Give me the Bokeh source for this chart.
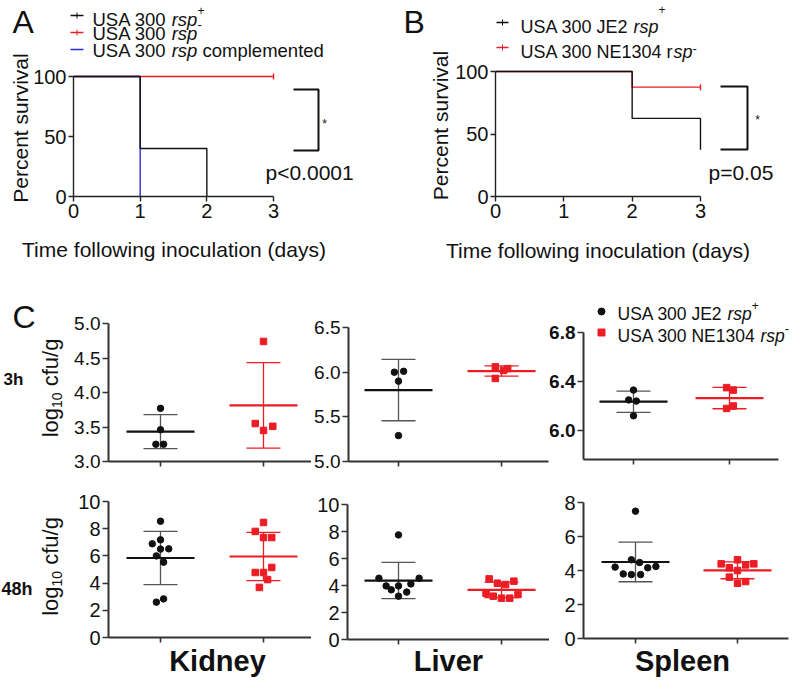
import numpy as np
from bokeh.plotting import figure
from bokeh.layouts import column, row
from bokeh.models import Label, FixedTicker, NumeralTickFormatter
from bokeh.embed import file_html
from bokeh.resources import INLINE

FONT = "Liberation Sans"
RED = "#ec1c24"
BLUE = "#2a2ad2"
BLACK = "#111111"

# ---------------- Panel A : percent survival vs days ----------------
a_x_ticks = [0, 1, 2, 3]
a_y_ticks = [0, 50, 100]
a_pos_t = [0, 1, 2]
a_pos_s = [100, 40, 0]
a_neg_t = [0, 3]
a_neg_s = [100, 100]
a_cmp_t = [0, 1]
a_cmp_s = [100, 0]
a_neg_censor_t = [3]
a_neg_censor_s = [100]
a_pvalue = "p<0.0001"

# ---------------- Panel B ----------------
b_x_ticks = [0, 1, 2, 3]
b_y_ticks = [0, 50, 100]
b_je2_t = [0, 2, 3]
b_je2_s = [100, 62.5, 37.5]
b_ne_t = [0, 2, 3]
b_ne_s = [100, 87.5, 87.5]
b_ne_censor_t = [3]
b_ne_censor_s = [87.5]
b_pvalue = "p=0.05"

# ---------------- Panel C : log10 cfu/g ----------------
organs = ["Kidney", "Liver", "Spleen"]
k3_je2 = [3.77, 3.46, 3.25, 3.25]
k3_je2_jit = [0, 0, -0.045, 0.03]
k3_ne = [4.74, 3.55, 3.45, 3.51]
k3_ne_jit = [0, -0.08, 0, 0.09]
l3_je2 = [6.00, 6.01, 5.90, 5.29]
l3_je2_jit = [-0.04, 0.05, 0, 0]
l3_ne = [6.06, 6.02, 6.04, 5.93]
l3_ne_jit = [-0.06, 0.02, 0.06, -0.06]
s3_je2 = [6.33, 6.25, 6.24, 6.12]
s3_je2_jit = [0, -0.05, 0.03, 0]
s3_ne = [6.35, 6.33, 6.20, 6.18]
s3_ne_jit = [-0.03, 0.04, 0.04, -0.03]
k48_je2 = [8.55, 7.18, 6.89, 6.50, 6.52, 6.00, 5.54, 2.84, 2.60]
k48_je2_jit = [0, 0, -0.08, 0, 0.08, -0.04, 0.03, 0.03, -0.04]
k48_ne = [8.46, 7.80, 7.35, 7.35, 5.15, 4.78, 4.78, 4.26, 3.68]
k48_ne_jit = [0, -0.08, 0, 0.08, 0.08, -0.08, 0, 0.04, -0.04]
l48_je2 = [7.75, 4.54, 4.54, 3.97, 3.68, 3.97, 4.12, 3.51, 3.21]
l48_je2_jit = [0, -0.19, 0.2, -0.12, -0.07, 0, 0.12, 0.08, 0]
l48_ne = [4.49, 4.17, 4.07, 4.32, 3.43, 3.21, 3.06, 3.06, 3.33]
l48_ne_jit = [-0.12, -0.04, 0.04, 0.12, -0.15, -0.08, 0, 0.08, 0.16]
s48_je2 = [7.49, 4.63, 4.47, 4.20, 4.24, 4.16, 3.80, 3.76, 3.76]
s48_je2_jit = [0, -0.04, 0.04, -0.2, 0.2, 0.12, -0.12, -0.04, 0.05]
s48_ne = [4.39, 4.63, 4.33, 4.39, 4.16, 4.00, 3.61, 3.35, 3.25]
s48_ne_jit = [-0.16, 0, 0.08, 0.16, -0.08, 0, -0.08, 0.08, 0]

k3_ticks = [3.0, 3.5, 4.0, 4.5, 5.0]
l3_ticks = [5.0, 5.5, 6.0, 6.5]
s3_ticks = [6.0, 6.4, 6.8]
k48_ticks = [0, 2, 4, 6, 8, 10]
l48_ticks = [0, 2, 4, 6, 8, 10]
s48_ticks = [0, 2, 4, 6, 8]

# ---------------- helpers ----------------
CW = {' ': 278, '+': 584, '-': 333, '.': 278, '/': 278, 'A': 667, 'E': 667, 'J': 500,
      'N': 722, 'S': 667, 'U': 722, 'c': 500, 'd': 556, 'e': 556, 'f': 278, 'g': 556,
      'l': 222, 'm': 833, 'n': 556, 'o': 556, 'p': 556, 'r': 333, 's': 500, 't': 278,
      'u': 556}
BASE_SHIFT = 0.37   # measured offset of the rendered alphabetic baseline (em)


def tw(s, size):
    return sum(CW.get(c, 556) for c in s) * size / 1000.0


class Spec:
    """canvas rectangle (page px) and linear px <-> data mapping"""
    def __init__(self, cx, cy, w, h, xpx, xval, sx, ypx, yval, sy):
        self.cx, self.cy, self.w, self.h = cx, cy, w, h
        self.xpx, self.xval, self.sx = xpx, xval, sx
        self.ypx, self.yval, self.sy = ypx, yval, sy

    def X(self, px):
        return self.xval + (px - self.xpx) / self.sx

    def Y(self, py):
        return self.yval + (self.ypx - py) / self.sy


def make_fig(s, yaxis_px, xaxis_py, xb_px, yb_val, tick_size):
    p = figure(width=s.w, height=s.h,
               x_range=(s.X(s.cx), s.X(s.cx + s.w)), y_range=(s.Y(s.cy + s.h), s.Y(s.cy)),
               toolbar_location=None, output_backend="svg", title=None,
               min_border_left=0, min_border_right=0, min_border_top=0, min_border_bottom=0)
    p.grid.visible = False
    p.outline_line_color = None
    p.background_fill_color = "white"
    p.border_fill_color = "white"
    p.yaxis.fixed_location = s.X(yaxis_px)
    p.xaxis.fixed_location = s.Y(xaxis_py)
    p.xaxis.bounds = (s.X(xb_px[0]), s.X(xb_px[1]))
    p.yaxis.bounds = yb_val
    for ax in (p.xaxis[0], p.yaxis[0]):
        ax.axis_line_color = "#222222"
        ax.axis_line_width = 1.6
        ax.major_tick_line_color = "#222222"
        ax.major_tick_line_width = 1.6
        ax.major_tick_out = 5
        ax.major_tick_in = 0
        ax.minor_tick_line_color = None
        ax.major_label_text_font = FONT
        ax.major_label_text_color = BLACK
        ax.major_label_standoff = 2
        ax.major_label_text_font_size = f"{tick_size}px"
    return p


def lab(p, s, xpx, ypx, text, size, style="normal", align="left", angle=0.0, color=BLACK):
    if angle == 0.0:
        ypx = ypx - BASE_SHIFT * size
    else:
        xpx = xpx - BASE_SHIFT * size
    p.add_layout(Label(x=s.X(xpx), y=s.Y(ypx), text=text, text_font=FONT,
                       text_font_size=f"{size}px", text_font_style=style,
                       text_align=align, text_baseline="alphabetic", angle=angle,
                       text_color=color))


def rich(p, s, x, y, pieces):
    for text, style, size, dy in pieces:
        stripped = text.lstrip(" ")
        lead = tw(text[:len(text) - len(stripped)], size)
        if stripped:
            lab(p, s, x + lead, y + dy, stripped, size, style)
        x += tw(text, size)


def ylab_log(p, s, xbase, ycenter, size=22, sub=14):
    pieces = [("log", size, 0), ("10", sub, 4), (" cfu/g", size, 0)]
    total = sum(tw(t, sz) for t, sz, _ in pieces)
    y = ycenter + total / 2
    for t, sz, dx in pieces:
        stripped = t.lstrip(" ")
        lead = tw(t[:len(t) - len(stripped)], sz)
        lab(p, s, xbase + dx, y - lead, stripped, sz, angle=np.pi / 2)
        y -= tw(t, sz)


def seg_px(p, s, x0, y0, x1, y1, color, width):
    p.segment(x0=[s.X(x0)], y0=[s.Y(y0)], x1=[s.X(x1)], y1=[s.Y(y1)],
              line_color=color, line_width=width)


# ---------------- Panel A ----------------
sA = Spec(0, 0, 400, 275, 73, 0, 66.67, 196, 0, 1.2)
pA = make_fig(sA, 73, 196, (73, 273), (0, 100), 20)
pA.xaxis.ticker = FixedTicker(ticks=a_x_ticks)
pA.yaxis.ticker = FixedTicker(ticks=a_y_ticks)
for ax in (pA.xaxis[0], pA.yaxis[0]):
    ax.axis_line_width = 1.4
    ax.major_tick_line_width = 1.4
pA.step(a_neg_t, a_neg_s, mode="after", line_color=RED, line_width=1.4)
pA.step(a_cmp_t, a_cmp_s, mode="after", line_color=BLUE, line_width=1.4)
pA.step(a_pos_t, a_pos_s, mode="after", line_color=BLACK, line_width=1.4)
pA.scatter(a_neg_censor_t, a_neg_censor_s, marker="dash", angle=np.pi / 2, size=6,
           line_color=RED, line_width=1.4)
# legend
seg_px(pA, sA, 70, 15, 83, 15, BLACK, 1.4)
seg_px(pA, sA, 76.5, 12, 76.5, 18, BLACK, 1.0)
seg_px(pA, sA, 70, 32, 83, 32, RED, 1.6)
seg_px(pA, sA, 76.5, 29, 76.5, 35, RED, 1.0)
seg_px(pA, sA, 70, 49, 83, 49, BLUE, 1.4)
LA = 18.5
rich(pA, sA, 92, 26, [("USA 300 ", "normal", LA, 0), ("rsp", "italic", LA, 0), ("+", "normal", 12, -12)])
rich(pA, sA, 92, 40, [("USA 300 ", "normal", LA, 0), ("rsp", "italic", LA, 0), ("-", "normal", 13, -11)])
rich(pA, sA, 92, 57, [("USA 300 ", "normal", LA, 0), ("rsp", "italic", LA, 0), (" complemented", "normal", LA, 0)])
# significance
pA.line([sA.X(293), sA.X(318), sA.X(318), sA.X(293)],
        [sA.Y(89), sA.Y(89), sA.Y(150), sA.Y(150)], line_color=BLACK, line_width=2)
lab(pA, sA, 324, 128, "*", 12, align="center")
lab(pA, sA, 265, 180, a_pvalue, 21)
lab(pA, sA, 12, 33, "A", 32)
lab(pA, sA, 173.5, 257, "Time following inoculation (days)", 21, align="center")
lab(pA, sA, 28, 127.5, "Percent survival", 21, align="center", angle=np.pi / 2)

# ---------------- Panel B ----------------
sB = Spec(400, 0, 397, 275, 495, 0, 68.33, 196, 0, 1.25)
pB = make_fig(sB, 495, 196, (495, 700), (0, 100), 20)
pB.xaxis.ticker = FixedTicker(ticks=b_x_ticks)
pB.yaxis.ticker = FixedTicker(ticks=b_y_ticks)
for ax in (pB.xaxis[0], pB.yaxis[0]):
    ax.axis_line_width = 1.4
    ax.major_tick_line_width = 1.4
pB.step(b_ne_t, b_ne_s, mode="after", line_color=RED, line_width=1.4)
pB.step(b_je2_t, b_je2_s, mode="after", line_color=BLACK, line_width=1.4)
pB.scatter(b_ne_censor_t, b_ne_censor_s, marker="dash", angle=np.pi / 2, size=6,
           line_color=RED, line_width=1.4)
seg_px(pB, sB, 496, 22, 508, 22, BLACK, 1.4)
seg_px(pB, sB, 502, 19, 502, 25, BLACK, 1.0)
seg_px(pB, sB, 496, 47, 508, 47, RED, 1.6)
seg_px(pB, sB, 502, 44, 502, 50, RED, 1.0)
LB = 18
rich(pB, sB, 520, 33, [("USA 300 JE2 ", "normal", LB, 0), ("rsp", "italic", LB, 0), ("+", "normal", 12, -20)])
rich(pB, sB, 520, 58, [("USA 300 NE1304 r", "normal", LB, 0), ("sp", "italic", LB, 0), ("-", "normal", 13, -5)])
pB.line([sB.X(720), sB.X(747), sB.X(747), sB.X(720)],
        [sB.Y(86), sB.Y(86), sB.Y(149), sB.Y(149)], line_color=BLACK, line_width=2)
lab(pB, sB, 757, 124, "*", 12, align="center")
lab(pB, sB, 708, 180, b_pvalue, 21)
lab(pB, sB, 403, 33, "B", 32)
lab(pB, sB, 597.5, 258, "Time following inoculation (days)", 21, align="center")
lab(pB, sB, 448, 125, "Percent survival", 21, align="center", angle=np.pi / 2)


# ---------------- Panel C ----------------
def dot_fig(s, yaxis_px, xaxis_py, xend_px, yticks, ybounds, vb, jb, vr, jr,
            tick_size, bold=False, fmt=None):
    p = make_fig(s, yaxis_px, xaxis_py, (yaxis_px, xend_px), ybounds, tick_size)
    p.xaxis.ticker = FixedTicker(ticks=[0, 1])
    p.xaxis.major_label_text_color = None
    p.yaxis.ticker = FixedTicker(ticks=yticks)
    p.yaxis.major_tick_out = 6
    if bold:
        p.yaxis.major_label_text_font_style = "bold"
    if fmt:
        p.yaxis.formatter = NumeralTickFormatter(format=fmt)
    for ax in (p.xaxis[0], p.yaxis[0]):
        ax.axis_line_color = "#333333"
        ax.major_tick_line_color = "#333333"
        ax.axis_line_width = 2
    mw = 34.0 / s.sx
    cw = 17.0 / s.sx
    groups = [(0, vb, jb, BLACK, "circle", "#555555", 6.5),
              (1, vr, jr, RED, "square", RED, 6.5)]
    for ci, vals, jit, col, marker, ecol, msize in groups:
        v = np.array(vals, dtype=float)
        m = v.mean()
        sd = v.std(ddof=1)
        p.segment(x0=[ci, ci - cw, ci - cw], y0=[m - sd, m + sd, m - sd],
                  x1=[ci, ci + cw, ci + cw], y1=[m + sd, m + sd, m - sd],
                  line_color=ecol, line_width=1.3)
        p.segment(x0=[ci - mw], y0=[m], x1=[ci + mw], y1=[m], line_color=col, line_width=2.2)
        p.scatter(ci + np.array(jit), v, marker=marker, size=msize,
                  fill_color=col, line_color=col)
    return p


sK3 = Spec(0, 275, 311, 200, 160, 0, 103, 461, 3.0, 69)
sL3 = Spec(311, 275, 238, 200, 398, 0, 103, 461, 5.0, 89.3)
sS3 = Spec(549, 275, 248, 200, 633, 0, 96, 430, 6.0, 122.5)
sK48 = Spec(0, 475, 311, 208, 160, 0, 103, 637, 0, 13.6)
sL48 = Spec(311, 475, 238, 208, 398, 0, 103, 639, 0, 13.5)
sS48 = Spec(549, 475, 248, 208, 635, 0, 102, 638, 0, 17)

pK3 = dot_fig(sK3, 108, 461, 315, k3_ticks, (3.0, 5.0), k3_je2, k3_je2_jit, k3_ne, k3_ne_jit, 19, fmt="0.0")
pL3 = dot_fig(sL3, 348, 461, 548, l3_ticks, (5.0, 6.5), l3_je2, l3_je2_jit, l3_ne, l3_ne_jit, 19, fmt="0.0")
pS3 = dot_fig(sS3, 583, 459, 778, s3_ticks, (sS3.Y(459), 6.8), s3_je2, s3_je2_jit, s3_ne, s3_ne_jit,
              19, bold=True, fmt="0.0")
pK48 = dot_fig(sK48, 108, 637, 315, k48_ticks, (0, 10), k48_je2, k48_je2_jit, k48_ne, k48_ne_jit, 20)
pL48 = dot_fig(sL48, 347, 639, 553, l48_ticks, (0, 10), l48_je2, l48_je2_jit, l48_ne, l48_ne_jit, 20)
pS48 = dot_fig(sS48, 583, 638, 788, s48_ticks, (0, 8), s48_je2, s48_je2_jit, s48_ne, s48_ne_jit, 20)

# legend of panel C
pS3.scatter([sS3.X(601)], [sS3.Y(311)], marker="circle", size=7, color=BLACK)
pS3.scatter([sS3.X(601)], [sS3.Y(332)], marker="square", size=7, color=RED)
LC = 17.5
rich(pS3, sS3, 617, 320, [("USA 300 JE2 ", "normal", LC, 0), ("rsp", "italic", LC, 0), ("+", "normal", 12, -11)])
rich(pS3, sS3, 617, 342, [("USA 300 NE1304 ", "normal", LC, 0), ("rsp", "italic", LC, 0), ("-", "normal", 13, -9)])

lab(pK3, sK3, 12, 328, "C", 32)
lab(pK3, sK3, 3, 385, "3h", 17, style="bold")
ylab_log(pK3, sK3, 58, 387.5)
lab(pK48, sK48, 1, 595, "48h", 18, style="bold")
ylab_log(pK48, sK48, 58, 566)
lab(pK48, sK48, 217, 671, organs[0], 29, style="bold", align="center")
lab(pL48, sL48, 448, 671, organs[1], 29, style="bold", align="center")
lab(pS48, sS48, 682, 671, organs[2], 29, style="bold", align="center")

layout = column(row(pA, pB), row(pK3, pL3, pS3), row(pK48, pL48, pS48))
open("out.html", "w").write(file_html(layout, INLINE))
